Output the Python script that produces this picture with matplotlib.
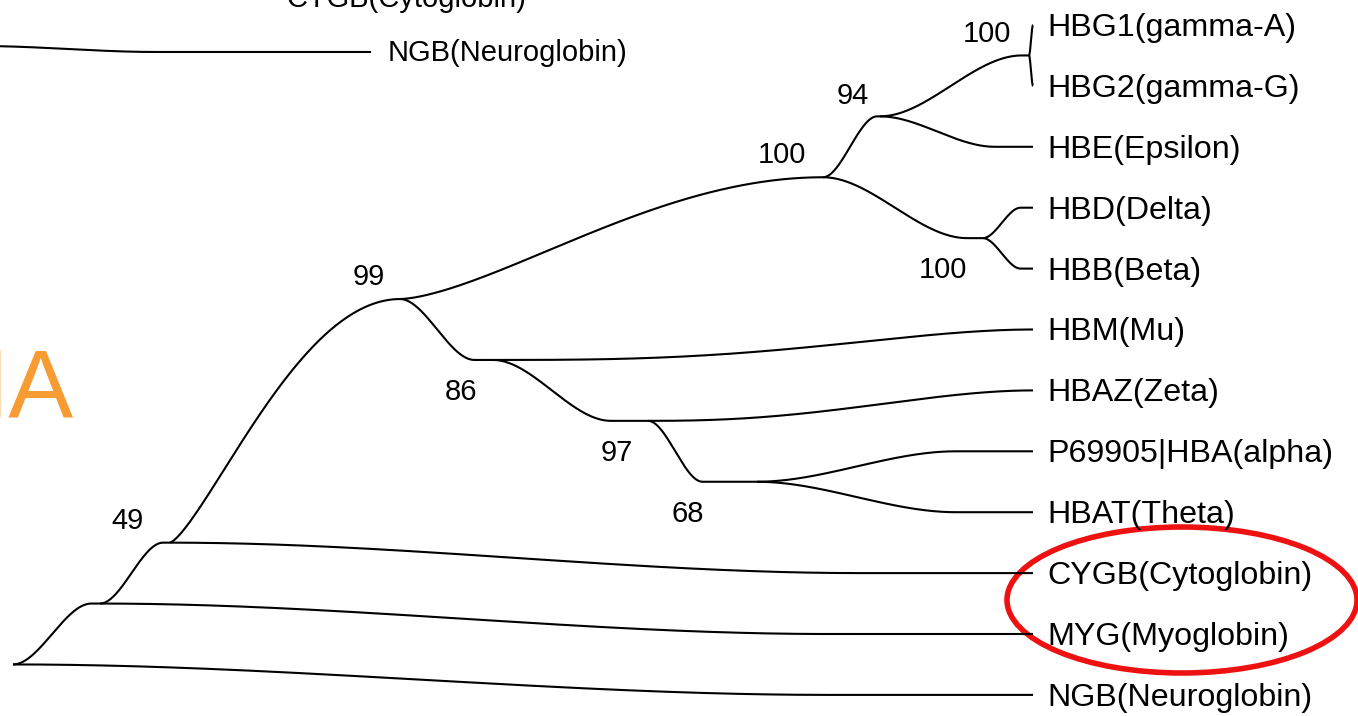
import numpy as np
import matplotlib
matplotlib.use("Agg")
import matplotlib.pyplot as plt
from matplotlib.patches import Ellipse

plt.rcParams['font.family'] = ['Liberation Sans', 'DejaVu Sans']

# ---------------- data ----------------
leaf_keys = ["HBG1", "HBG2", "HBE", "HBD", "HBB", "HBM", "HBAZ", "HBA",
             "HBAT", "CYGB", "MYG", "NGB"]
leaf_labels = ["HBG1(gamma-A)", "HBG2(gamma-G)", "HBE(Epsilon)", "HBD(Delta)",
               "HBB(Beta)", "HBM(Mu)", "HBAZ(Zeta)", "P69905|HBA(alpha)",
               "HBAT(Theta)", "CYGB(Cytoglobin)", "MYG(Myoglobin)",
               "NGB(Neuroglobin)"]
leaf_depth = 1033

node_keys = ["root", "A", "B", "C", "D", "F", "GAM", "G", "E", "H", "I"]
node_depth = [13, 100, 170, 400, 823, 880, 1029, 983, 493, 648, 757]
node_row = [10.5, 9.5, 8.5, 4.5, 2.5, 1.5, 0.5, 3.5, 5.5, 6.5, 7.5]
bootstrap = [None, None, "49", "99", "100", "94", "100", "100", "86", "97", "68"]
boot_offset_px = [None, None, (-42, -22), (-31, -22), (-41, -22), (-27, -20),
                  (-42, -21), (-40, 32), (-32, 32), (-31, 32), (-69, 32)]

# parent, child, fraction of span used for the bend, skew of the bend
edges = [("root", "A", 0.9, 1.0), ("root", "NGB", 0.8, 1.0),
         ("A", "B", 0.9, 1.0), ("A", "MYG", 0.78, 1.0),
         ("B", "C", 1.0, 0.7), ("B", "CYGB", 0.8, 1.0),
         ("C", "E", 0.8, 1.0), ("C", "D", 1.0, 0.8),
         ("D", "F", 0.95, 1.0), ("D", "G", 0.9, 1.0),
         ("F", "GAM", 0.95, 1.0), ("F", "HBE", 0.75, 1.0),
         ("GAM", "HBG1", 1.0, 1.0), ("GAM", "HBG2", 1.0, 1.0),
         ("G", "HBD", 0.75, 1.0), ("G", "HBB", 0.75, 1.0),
         ("E", "HBM", 1.0, 1.5), ("E", "H", 0.76, 1.0),
         ("H", "HBAZ", 1.0, 1.25), ("H", "I", 0.5, 1.0),
         ("I", "HBA", 0.72, 1.0), ("I", "HBAT", 0.72, 1.0)]

# fragment of another tree at top-left
frag_parent = (-20, 0.345)
frag_child = (370, 0.443)
frag_labels = ["NGB(Neuroglobin)", "CYGB(Cytoglobin)"]

# ---------------- layout ----------------
W, H = 1358, 716
ROW0, ROWH = 25.0, 60.9


def px2row(py):
    return (py - ROW0) / ROWH


fig = plt.figure(figsize=(W / 100, H / 100), dpi=100)
ax = fig.add_axes([0, 0, 1, 1])
ax.set_xlim(0, W)
ax.set_ylim(px2row(H), px2row(0))
ax.axis('off')

pos = {}
for k, d, r in zip(node_keys, node_depth, node_row):
    pos[k] = (d, r)
for i, k in enumerate(leaf_keys):
    pos[k] = (leaf_depth, i)


def branch(p, c, frac, skew=1.0):
    x0, y0 = p
    x1, y1 = c
    xs = np.linspace(x0, x1, 300)
    span = max((x1 - x0) * frac, 1e-6)
    t = np.clip((xs - x0) / span, 0, 1) ** skew
    s = 3 * t ** 2 - 2 * t ** 3
    return xs, y0 + (y1 - y0) * s


LW = 1.5
for p, c, f, sk in edges:
    xs, ys = branch(pos[p], pos[c], f, sk)
    ax.plot(xs, ys, color='black', lw=LW, solid_capstyle='butt')

# fragment
xs, ys = branch(frag_parent, frag_child, 0.45)
ax.plot(xs, ys, color='black', lw=LW)
ax.annotate(frag_labels[0], xy=frag_child, xytext=(18 * 0.72, -9 * 0.72),
            textcoords='offset points', va='baseline', ha='left', fontsize=21)
ax.text(287, px2row(7), frag_labels[1], va='baseline', ha='left', fontsize=21)

# leaf labels
for i, lab in enumerate(leaf_labels):
    ax.annotate(lab, xy=(leaf_depth, i), xytext=(14 * 0.72, -11 * 0.72),
                textcoords='offset points', va='baseline', ha='left',
                fontsize=23.2)

# bootstrap values
for k, b, off in zip(node_keys, bootstrap, boot_offset_px):
    if b is None:
        continue
    ax.annotate(b, xy=pos[k], xytext=(off[0] * 0.72, -off[1] * 0.72),
                textcoords='offset points', va='center', ha='center',
                fontsize=21)

# orange partial text
ax.text(73, px2row(418), "NA", color='#F79B33', fontsize=70,
        ha='right', va='baseline')

# red ellipse
ell = Ellipse((1182, px2row(600)), width=350, height=146 / ROWH,
              fill=False, edgecolor='#EE1111', lw=4.0)
ax.add_patch(ell)

fig.savefig("out.png", dpi=100)
